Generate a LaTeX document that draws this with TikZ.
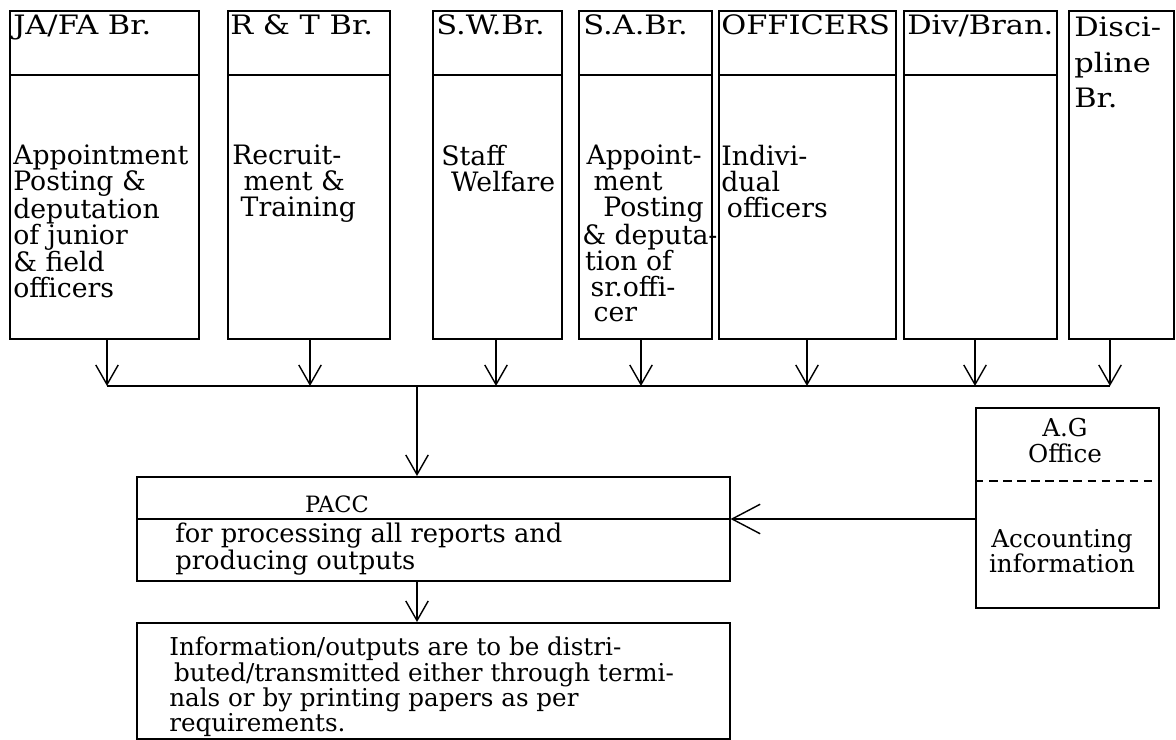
\documentclass[tikz,border=0pt]{standalone}
\usepackage{fontspec}
\setmainfont{DejaVu Serif}
\newfontfamily\widefont{DejaVu Serif}[FakeStretch=1.14]
\usetikzlibrary{arrows.meta}
\newcommand\pxu{0.025cm}
\tikzset{
  branch/.style={draw, line width=1.1pt, anchor=north west, inner sep=0pt, minimum height=328*\pxu},
  panel/.style={draw, line width=1.1pt, anchor=north west, inner sep=0pt},
  hdtext/.style={anchor=base west, inner sep=0pt, font=\widefont\fontsize{19}{18.4}\selectfont},
  bodytext/.style={anchor=north west, inner sep=0pt, align=left, font=\fontsize{19}{18.4}\selectfont},
  lowtext/.style={anchor=north west, inner sep=0pt, align=left, font=\fontsize{17.5}{16.2}\selectfont},
  barb/.style={line width=1pt, -{Straight Barb[length=14pt,width=16pt,line width=1pt]}},
  bigbarb/.style={line width=1pt, -{Straight Barb[length=20pt,width=21pt,line width=1pt]}},
}
\begin{document}
\begin{tikzpicture}[x=0.025cm,y=-0.025cm]
 \useasboundingbox (0,0) rectangle (1176,740);
 \coordinate (hline) at (0,75);
 \coordinate (bus) at (0,386);
 \coordinate (join) at (417,386);
 \coordinate (pline) at (0,519);
 \coordinate (agline) at (0,481);
 % branch columns
 \node[branch, minimum width=189*\pxu] (jafa) at (9,10) {};
 \node[branch, minimum width=162*\pxu] (rt) at (227,10) {};
 \node[branch, minimum width=129*\pxu] (sw) at (432,10) {};
 \node[branch, minimum width=133*\pxu] (sa) at (578,10) {};
 \node[branch, minimum width=177*\pxu] (off) at (718,10) {};
 \node[branch, minimum width=153*\pxu] (div) at (903,10) {};
 \node[branch, minimum width=105*\pxu] (disc) at (1068,10) {};
 \foreach \b in {jafa,rt,sw,sa,off,div}
  \draw[line width=1.1pt] (\b.west |- hline) -- (\b.east |- hline);
 % headings
 \node[hdtext] (jafa-t) at (13,35) {JA/FA Br.};
 \node[hdtext] (rt-t) at (230,35) {R \& T Br.};
 \node[hdtext] (sw-t) at (436,35) {S.W.Br.};
 \node[hdtext] (sa-t) at (583,35) {S.A.Br.};
 \node[hdtext] (off-t) at (721,35) {OFFICERS};
 \node[hdtext] (div-t) at (907,35) {Div/Bran.};
 \node[bodytext, font=\widefont\fontsize{19}{25}\selectfont] (disc-t) at (1074,17) {Disci-\\pline\\Br.};
 % column texts
 \node[bodytext] (jafa-b) at (13,145) {Appointment\\Posting \&\\deputation\\of junior\\\& field\\officers};
 \node[bodytext] (rt-b) at (232,145) {Recruit-\\\hspace*{8pt}ment \&\\\hspace*{6pt}Training};
 \node[bodytext] (sw-b) at (441,145) {Staff\\\hspace*{7pt}Welfare};
 \node[bodytext] (sa-b) at (582,145) {\hspace*{3pt}Appoint-\\\hspace*{8pt}ment\\\hspace*{15pt}Posting\\\& deputa-\\\hspace*{2pt}tion of\\\hspace*{6pt}sr.offi-\\\hspace*{8pt}cer};
 \node[bodytext] (off-b) at (721,145) {Indivi-\\dual\\\hspace*{4pt}officers};
 % collecting line
 \foreach \b/\x in {jafa/107,rt/310,sw/496,sa/641,off/807,div/975,disc/1110}
  \draw[barb] (\x,0 |- \b.south) -- (\x,0 |- bus);
 \draw[line width=1pt] (107,0 |- bus) -- (1110,0 |- bus);
 % PACC
 \node[panel, minimum width=593*\pxu, minimum height=104*\pxu] (pacc) at (136,476) {};
 \draw[line width=1.1pt] (pacc.west |- pline) -- (pacc.east |- pline);
 \node[anchor=base, inner sep=0pt, font=\fontsize{16}{16}\selectfont] (pacc-t) at (337,513) {PACC};
 \node[lowtext, font=\fontsize{18.3}{17.7}\selectfont] (pacc-b) at (175,523) {for processing all reports and\\producing outputs};
 % outputs
 \node[panel, minimum width=593*\pxu, minimum height=116*\pxu] (info) at (136,622) {};
 \node[lowtext] (info-b) at (169,637) {Information/outputs are to be distri-\\\hspace*{3.5pt}buted/transmitted either through termi-\\nals or by printing papers as per\\requirements.};
 % A.G office
 \node[panel, minimum width=183*\pxu, minimum height=200*\pxu] (ag) at (975,407) {};
 \draw[line width=1pt, dash pattern=on 6pt off 4pt] (ag.west |- agline) -- (ag.east |- agline);
 \node[anchor=north, inner sep=0pt, align=center, font=\fontsize{17.5}{18.4}\selectfont] (ag-t) at (1065,418) {A.G\\Office};
 \node[anchor=north, inner sep=0pt, align=center, font=\fontsize{17.5}{16}\selectfont] (ag-b) at (1062,529) {Accounting\\information};
 % connectors
 \draw[barb] (join) -- (join |- pacc.north);
 \draw[barb] (join |- pacc.south) -- (join |- info.north);
 \draw[bigbarb] (ag.west |- pline) -- (pacc.east |- pline);
\end{tikzpicture}
\end{document}
